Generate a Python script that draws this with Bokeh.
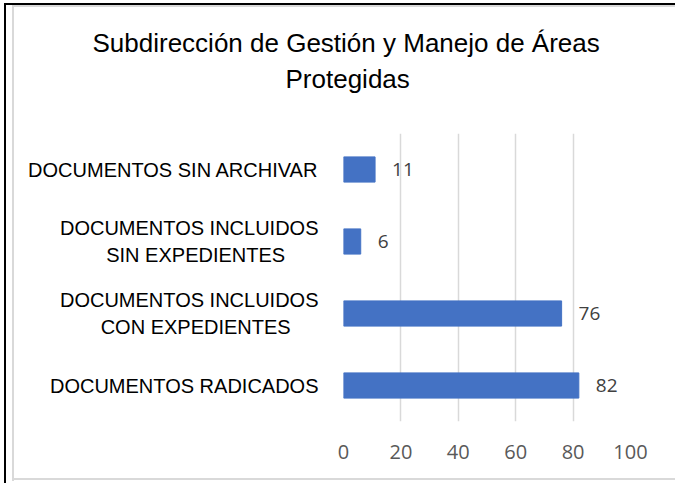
from bokeh.plotting import figure
from bokeh.models import ColumnDataSource, Range1d, FactorRange, FixedTicker, Title
from bokeh.core.properties import value
from bokeh.embed import file_html
from bokeh.resources import INLINE

# Data (bottom to top)
categories = [
    "DOCUMENTOS RADICADOS",
    "DOCUMENTOS INCLUIDOS\nCON EXPEDIENTES\u00a0\u00a0\u00a0\u00a0\u00a0",
    "DOCUMENTOS INCLUIDOS\nSIN EXPEDIENTES\u00a0\u00a0\u00a0\u00a0\u00a0\u00a0",
    "DOCUMENTOS SIN ARCHIVAR",
]
values = [82, 76, 6, 11]
labels = [str(v) for v in values]
x_ticks = [0, 20, 40, 60, 80, 100]

title_line1 = "Subdirección de Gestión y Manejo de Áreas"
title_line2 = "Protegidas"

FONT = "Liberation Sans"
NUMFONT = "Open Sans"

src = ColumnDataSource(data=dict(cat=categories, val=values, lab=labels))

p = figure(
    width=675, height=483,
    y_range=FactorRange(factors=categories, range_padding=0),
    x_range=Range1d(0, 100),
    output_backend="svg", toolbar_location=None,
    min_border_left=343, min_border_right=45,
    min_border_bottom=62, min_border_top=20,
    outline_line_color=None,
    background_fill_color="white", border_fill_color=None,
)

# Chart border lines painted as CSS background strips of the plot element
p.styles = {
    "background": ", ".join([
        "linear-gradient(#000000, #000000) 5px 3px / 670px 2px no-repeat",
        "linear-gradient(#000000, #000000) 4px 3px / 2px 480px no-repeat",
        "linear-gradient(#D9D9D9, #D9D9D9) 12px 5px / 663px 2px no-repeat",
        "linear-gradient(#D9D9D9, #D9D9D9) 12px 5px / 2px 476px no-repeat",
        "linear-gradient(#D9D9D9, #D9D9D9) 12px 478px / 663px 2px no-repeat",
        "white",
    ]),
}

# Titles (nearest-to-frame first); spacers are invisible
p.add_layout(Title(text="\u00a0", text_font=FONT, text_font_size="14px",
                   standoff=20), "above")
p.add_layout(Title(text=title_line2, align="left", offset=-58,
                   text_font=FONT, text_font_size="26px",
                   text_font_style="normal", text_color="#000000",
                   standoff=4), "above")
p.add_layout(Title(text=title_line1, align="left", offset=-251,
                   text_font=FONT, text_font_size="26px",
                   text_font_style="normal", text_color="#000000",
                   standoff=3), "above")
p.add_layout(Title(text="\u00a0", text_font=FONT, text_font_size="14px",
                   standoff=6), "above")

p.hbar(y="cat", right="val", left=0, height=0.35, source=src,
       fill_color="#4472C4", line_color="#4472C4", line_width=1)

p.text(x="val", y="cat", text="lab", source=src, x_offset=17,
       text_align="left", text_baseline="middle",
       text_font=value(NUMFONT), text_font_size="19px", text_color="#404040")

# Axes
p.xaxis.ticker = FixedTicker(ticks=x_ticks)
p.xaxis.axis_line_color = None
p.xaxis.major_tick_line_color = None
p.xaxis.minor_tick_line_color = None
p.xaxis.major_label_standoff = 17
p.xaxis.major_label_text_font = NUMFONT
p.xaxis.major_label_text_font_size = "20px"
p.xaxis.major_label_text_color = "#595959"

p.yaxis.axis_line_color = None
p.yaxis.major_tick_line_color = None
p.yaxis.minor_tick_line_color = None
p.yaxis.major_label_standoff = 19
p.yaxis.major_label_text_font = FONT
p.yaxis.major_label_text_font_size = "20px"
p.yaxis.major_label_text_color = "#000000"

p.xgrid.grid_line_color = "#D9D9D9"
p.xgrid.grid_line_width = 1.5
p.ygrid.grid_line_color = None

open("out.html", "w").write(file_html(p, INLINE))
